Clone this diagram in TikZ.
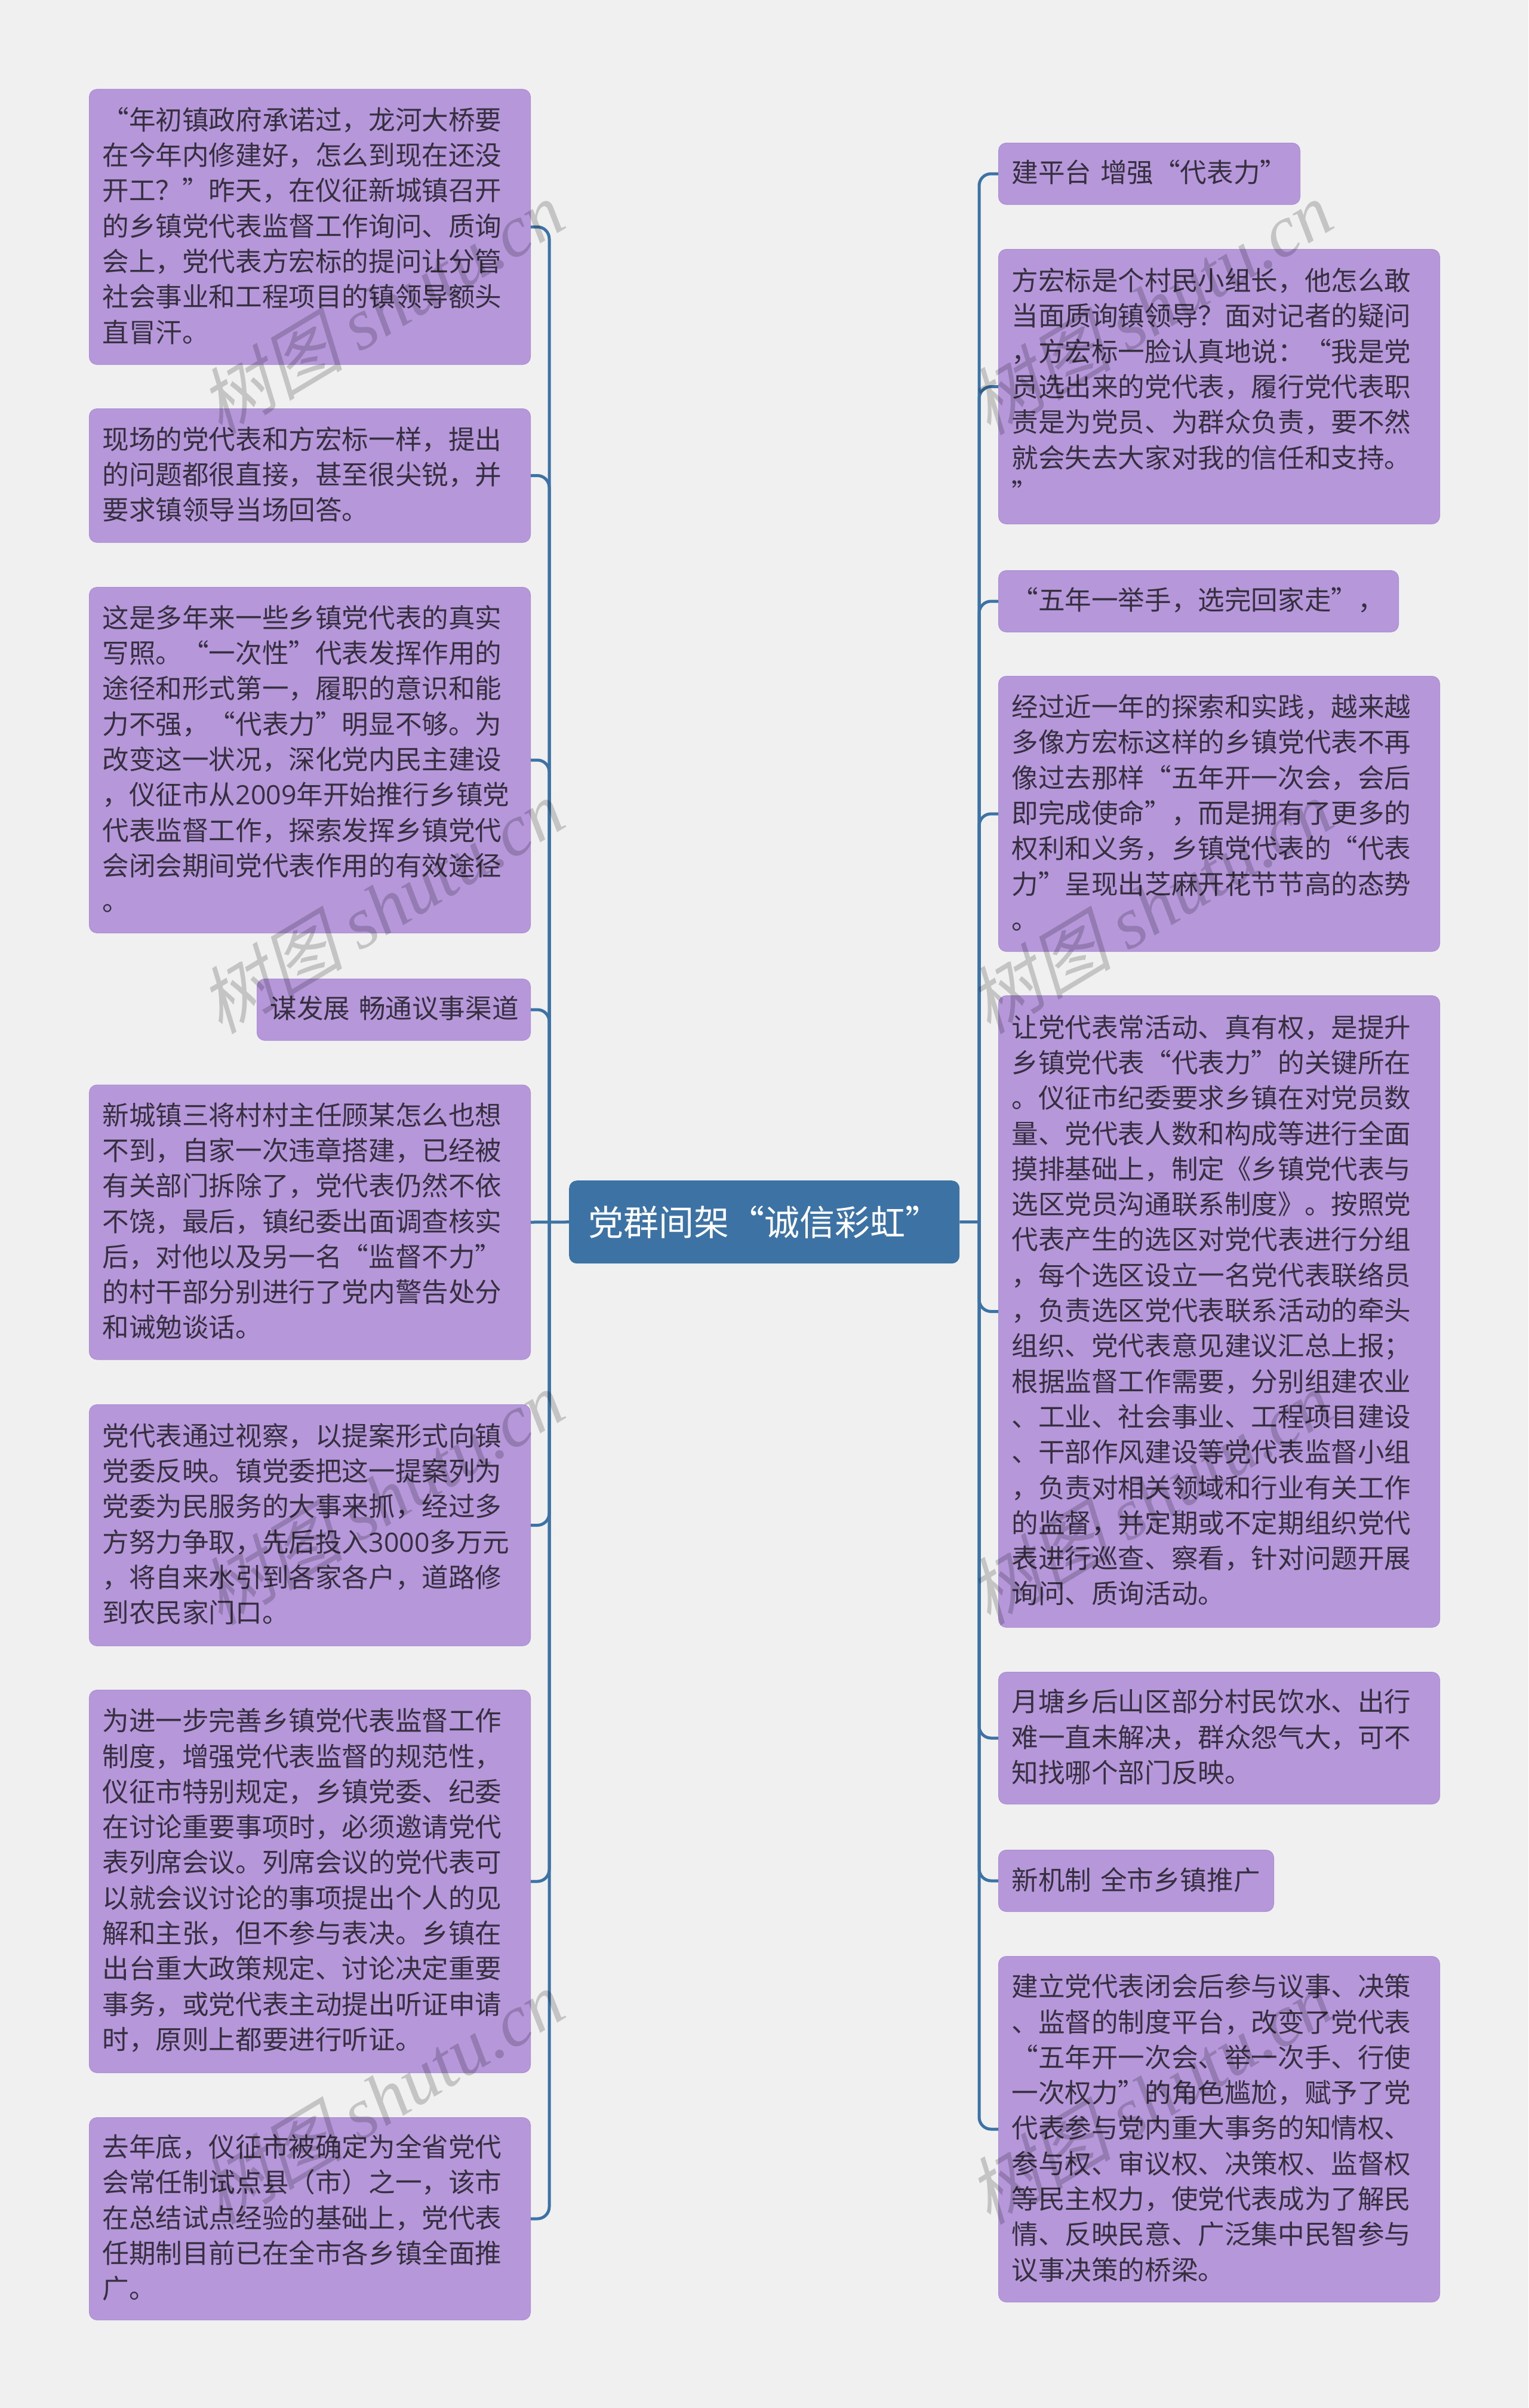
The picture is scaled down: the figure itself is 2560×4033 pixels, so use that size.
\documentclass[tikz,border=0pt]{standalone}
\usepackage{fontspec}
\setmainfont{Noto Sans CJK SC}
\newfontfamily\wmcjk[FakeSlant=0.25]{Noto Sans CJK SC}
\newfontfamily\wmlat{Liberation Serif}
\newfontfamily\digf{Open Sans}
\definecolor{bgc}{HTML}{F0F0F0}
\definecolor{boxc}{HTML}{B597DA}
\definecolor{boxe}{HTML}{AB8FD2}
\definecolor{linec}{HTML}{3D72A4}
\definecolor{txtc}{HTML}{362F40}
\tikzset{
  x=1pt,y=-1pt,
  leaf/.style n args={2}{draw=boxe,line width=1pt,fill=boxc,rounded corners=13pt,anchor=north west,
    minimum width=#1pt,minimum height=#2pt,text width=#1pt-44pt,inner xsep=22pt,inner ysep=0pt,
    align=left,text=txtc,font=\fontsize{44.6}{59.3}\selectfont,
    execute at end node={\par\vspace{4pt}}},
  rootbox/.style={fill=linec,rounded corners=13pt,anchor=north west,minimum width=654pt,minimum height=139pt,
    inner sep=0pt,text=white,font=\fontsize{59}{70}\selectfont},
  conn/.style={draw=linec,line width=5pt},
  branchline/.style={conn,rounded corners=20pt},
  wm/.style={rotate=31,text=black,opacity=0.18,font=\fontsize{122}{130}\selectfont}
}
\newcommand{\wmtext}{{\wmcjk 树图} {\wmlat\itshape shutu.cn}}
\begin{document}
\begin{tikzpicture}
\useasboundingbox (0,0) rectangle (2560,4033);
\fill[bgc] (0,0) rectangle (2560,4033);
\node[rootbox] (root) at (953,1977) {党群间架“诚信彩虹”};
\coordinate (ls) at (920,2046.5);
\coordinate (rs) at (1640,2046.5);

\node[leaf={739}{461}] (L1) at (149,149) {“年初镇政府承诺过，龙河大桥要\\在今年内修建好，怎么到现在还没\\开工？”昨天，在仪征新城镇召开\\的乡镇党代表监督工作询问、质询\\会上，党代表方宏标的提问让分管\\社会事业和工程项目的镇领导额头\\直冒汗。};
\node[leaf={739}{224}] (L2) at (149,684) {现场的党代表和方宏标一样，提出\\的问题都很直接，甚至很尖锐，并\\要求镇领导当场回答。};
\node[leaf={739}{579}] (L3) at (149,983) {这是多年来一些乡镇党代表的真实\\写照。“一次性”代表发挥作用的\\途径和形式第一，履职的意识和能\\力不强，“代表力”明显不够。为\\改变这一状况，深化党内民主建设\\，仪征市从{\digf 2009}年开始推行乡镇党\\代表监督工作，探索发挥乡镇党代\\会闭会期间党代表作用的有效途径\\。};
\node[leaf={458}{103}] (L4) at (430,1639) {谋发展~畅通议事渠道};
\node[leaf={739}{460}] (L5) at (149,1816.5) {新城镇三将村村主任顾某怎么也想\\不到，自家一次违章搭建，已经被\\有关部门拆除了，党代表仍然不依\\不饶，最后，镇纪委出面调查核实\\后，对他以及另一名“监督不力”\\的村干部分别进行了党内警告处分\\和诫勉谈话。};
\node[leaf={739}{404}] (L6) at (149,2352) {党代表通过视察，以提案形式向镇\\党委反映。镇党委把这一提案列为\\党委为民服务的大事来抓，经过多\\方努力争取，先后投入{\digf 3000}多万元\\，将自来水引到各家各户，道路修\\到农民家门口。};
\node[leaf={739}{641}] (L7) at (149,2830) {为进一步完善乡镇党代表监督工作\\制度，增强党代表监督的规范性，\\仪征市特别规定，乡镇党委、纪委\\在讨论重要事项时，必须邀请党代\\表列席会议。列席会议的党代表可\\以就会议讨论的事项提出个人的见\\解和主张，但不参与表决。乡镇在\\出台重大政策规定、讨论决定重要\\事务，或党代表主动提出听证申请\\时，原则上都要进行听证。};
\node[leaf={739}{339}] (L8) at (149,3546) {去年底，仪征市被确定为全省党代\\会常任制试点县（市）之一，该市\\在总结试点经验的基础上，党代表\\任期制目前已在全市各乡镇全面推\\广。};

\node[leaf={505}{103}] (R1) at (1672,239) {建平台~增强“代表力”};
\node[leaf={739}{460}] (R2) at (1672,417) {方宏标是个村民小组长，他怎么敢\\当面质询镇领导？面对记者的疑问\\，方宏标一脸认真地说：“我是党\\员选出来的党代表，履行党代表职\\责是为党员、为群众负责，要不然\\就会失去大家对我的信任和支持。\\”};
\node[leaf={670}{103}] (R3) at (1672,955) {“五年一举手，选完回家走”，};
\node[leaf={739}{461}] (R4) at (1672,1132) {经过近一年的探索和实践，越来越\\多像方宏标这样的乡镇党代表不再\\像过去那样“五年开一次会，会后\\即完成使命”，而是拥有了更多的\\权利和义务，乡镇党代表的“代表\\力”呈现出芝麻开花节节高的态势\\。};
\node[leaf={739}{1058}] (R5) at (1672,1667) {让党代表常活动、真有权，是提升\\乡镇党代表“代表力”的关键所在\\。仪征市纪委要求乡镇在对党员数\\量、党代表人数和构成等进行全面\\摸排基础上，制定《乡镇党代表与\\选区党员沟通联系制度》。按照党\\代表产生的选区对党代表进行分组\\，每个选区设立一名党代表联络员\\，负责选区党代表联系活动的牵头\\组织、党代表意见建议汇总上报；\\根据监督工作需要，分别组建农业\\、工业、社会事业、工程项目建设\\、干部作风建设等党代表监督小组\\，负责对相关领域和行业有关工作\\的监督，并定期或不定期组织党代\\表进行巡查、察看，针对问题开展\\询问、质询活动。};
\node[leaf={739}{221}] (R6) at (1672,2800) {月塘乡后山区部分村民饮水、出行\\难一直未解决，群众怨气大，可不\\知找哪个部门反映。};
\node[leaf={461}{103}] (R7) at (1672,3098) {新机制~全市乡镇推广};
\node[leaf={739}{579}] (R8) at (1672,3276) {建立党代表闭会后参与议事、决策\\、监督的制度平台，改变了党代表\\“五年开一次会、举一次手、行使\\一次权力”的角色尴尬，赋予了党\\代表参与党内重大事务的知情权、\\参与权、审议权、决策权、监督权\\等民主权力，使党代表成为了解民\\情、反映民意、广泛集中民智参与\\议事决策的桥梁。};

\draw[conn] (root.west) -- (L5.east);
\draw[conn] (root.east) -- (rs);
\foreach \n in {L1,L2,L3,L4,L6,L7,L8} {\draw[branchline] (ls) |- (\n.east);}
\foreach \n in {R1,R2,R3,R4,R5,R6,R7,R8} {\draw[branchline] (rs) |- (\n.west);}

\node[wm] (w1) at (638,515) {\wmtext};
\node[wm] (w2) at (1925,515) {\wmtext};
\node[wm] (w3) at (638,1518) {\wmtext};
\node[wm] (w4) at (1925,1518) {\wmtext};
\node[wm] (w5) at (638,2508) {\wmtext};
\node[wm] (w6) at (1925,2508) {\wmtext};
\node[wm] (w7) at (638,3512) {\wmtext};
\node[wm] (w8) at (1925,3512) {\wmtext};
\end{tikzpicture}
\end{document}
